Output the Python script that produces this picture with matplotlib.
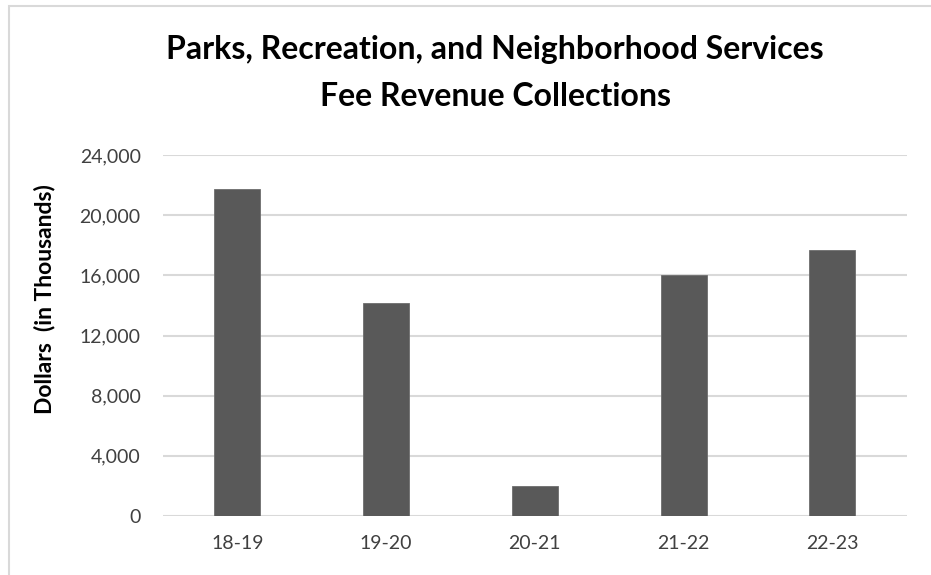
import matplotlib
matplotlib.use("Agg")
import matplotlib.pyplot as plt
from matplotlib.patches import Rectangle
from matplotlib.ticker import FuncFormatter

# Fiscal-year fee revenue, in thousands of dollars
fiscal_years = ["18-19", "19-20", "20-21", "21-22", "22-23"]
revenue = [21730, 14180, 2000, 16030, 17690]
y_ticks = [0, 4000, 8000, 12000, 16000, 20000, 24000]

plt.rcParams["font.family"] = ["Lato", "DejaVu Sans"]

fig = plt.figure(figsize=(9.31, 5.75), dpi=100)
ax = fig.add_axes([0.175, 0.1026, 0.799, 0.6278])

x = range(len(fiscal_years))
ax.bar(x, revenue, width=0.31, color="#595959", edgecolor="#6e6e6e",
       linewidth=0.6, zorder=3)

ax.set_xlim(-0.5, len(fiscal_years) - 0.5)
ax.set_ylim(0, 24000)
ax.set_yticks(y_ticks)
ax.yaxis.set_major_formatter(FuncFormatter(lambda v, p: f"{int(v):,}"))
ax.set_xticks(list(x))
ax.set_xticklabels(fiscal_years)

ax.grid(axis="y", color="#d9d9d9", linewidth=1.5, zorder=0)
for s in ax.spines.values():
    s.set_visible(False)
ax.tick_params(axis="both", length=0, labelsize=14, colors="#404040")
ax.tick_params(axis="y", pad=16)
ax.tick_params(axis="x", pad=14)

fig.text(45 / 931, 1 - 299 / 575, "Dollars  (in Thousands)", rotation=90,
         ha="center", va="center", fontsize=16.5, fontweight="bold")

fig.text(0.532, 1 - 50 / 575, "Parks, Recreation, and Neighborhood Services",
         ha="center", va="center", fontsize=23, fontweight="bold")
fig.text(0.532, 1 - 97 / 575, "Fee Revenue Collections",
         ha="center", va="center", fontsize=23, fontweight="bold")

# Light chart-area frame (top and left edges visible)
fig.patches.append(Rectangle((9 / 931, -0.05), 1.1, 1 - 6 / 575 + 0.05,
                             transform=fig.transFigure, fill=False,
                             edgecolor="#d9d9d9", linewidth=1.5))

fig.savefig("out.png", dpi=100)
